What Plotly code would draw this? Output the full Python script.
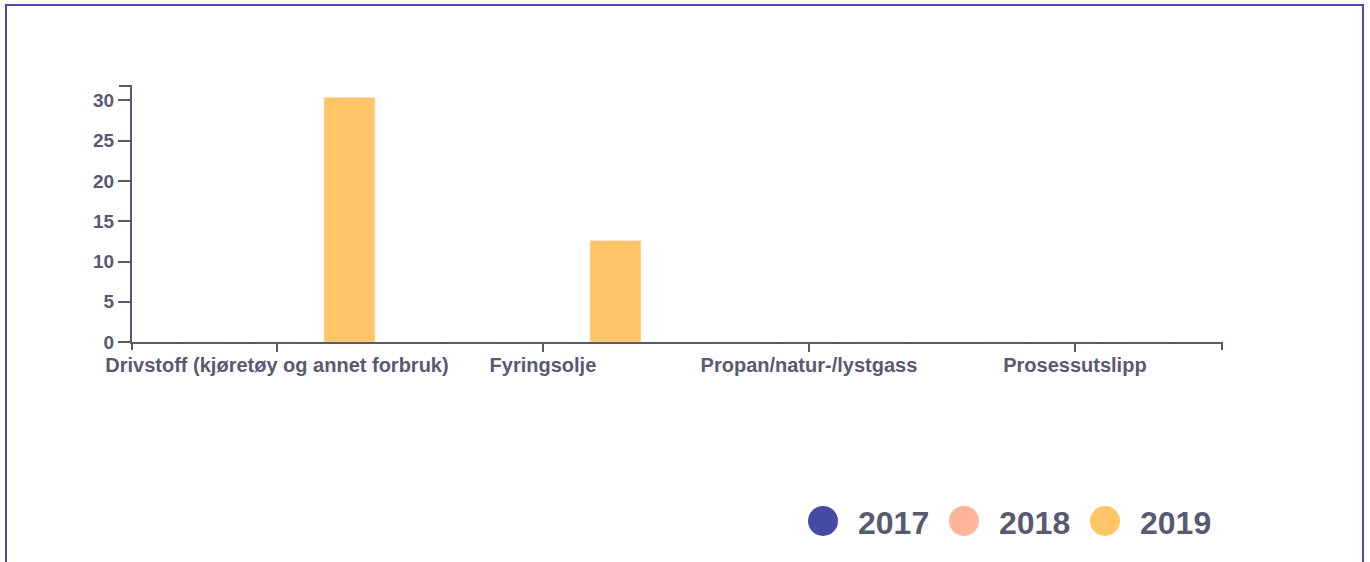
import plotly.graph_objects as go

categories = ["Drivstoff (kjøretøy og annet forbruk)", "Fyringsolje", "Propan/natur-/lystgass", "Prosessutslipp"]
years = ["2017", "2018", "2019"]
values_2017 = [0, 0, 0, 0]
values_2018 = [0, 0, 0, 0]
values_2019 = [30.4, 12.6, 0, 0]
colors = ["#464ca3", "#ffb59b", "#ffc566"]
y_ticks = [0, 5, 10, 15, 20, 25, 30]

series = [values_2017, values_2018, values_2019]
TEXT = "#595a72"
FONT = "Liberation Sans, Arial, sans-serif"

W, H = 1370, 562
L, R, T, B = 132, 1222, 86, 342

fig = go.Figure()
for name, vals, col in zip(years, series, colors):
    fig.add_trace(go.Bar(x=categories, y=vals, name=name, marker_color=col,
                         showlegend=False, hoverinfo="x+y+name"))


def px(x):
    return (x - L) / (R - L)


def py(y):
    return (B - y) / (B - T)


shapes = [
    # outer border
    dict(type="rect", xref="paper", yref="paper", x0=px(6), x1=px(1363), y0=py(600), y1=py(5),
         line=dict(color="#4a50a8", width=2), fillcolor="rgba(0,0,0,0)", layer="below"),
    # axis end caps
    dict(type="line", xref="paper", yref="paper", x0=px(119), x1=px(132), y0=1, y1=1,
         line=dict(color=TEXT, width=2)),
    dict(type="line", xref="paper", yref="paper", x0=0, x1=0, y0=0, y1=py(350),
         line=dict(color=TEXT, width=2)),
    dict(type="line", xref="paper", yref="paper", x0=1, x1=1, y0=0, y1=py(350),
         line=dict(color=TEXT, width=2)),
]

annotations = []
# custom legend (large circle markers)
leg_x0, leg_step, leg_y = 823, 141, 521
for i, (name, col) in enumerate(zip(years, colors)):
    cx = leg_x0 + i * leg_step
    shapes.append(dict(type="circle", xref="paper", yref="paper",
                       xsizemode="pixel", ysizemode="pixel",
                       xanchor=px(cx), yanchor=py(leg_y),
                       x0=-15, x1=15, y0=-15, y1=15,
                       fillcolor=col, line=dict(width=0)))
    annotations.append(dict(xref="paper", yref="paper", x=px(cx + 33), y=py(leg_y + 2),
                            xanchor="left", yanchor="middle", showarrow=False, text=name,
                            font=dict(family=FONT, size=32, color=TEXT, weight="bold")))

fig.update_layout(
    width=W, height=H,
    margin=dict(l=L, r=W - R, t=T, b=H - B),
    paper_bgcolor="white", plot_bgcolor="white",
    barmode="group", bargap=0.182, bargroupgap=0.296,
    showlegend=False,
    font=dict(family=FONT, color=TEXT, size=16),
    xaxis=dict(type="category", range=[-0.545, 3.553], showline=True, linecolor=TEXT, linewidth=2,
               ticks="outside", ticklen=8, tickwidth=2, tickcolor=TEXT, showgrid=False, zeroline=False,
               ticklabelstandoff=-4,
               tickfont=dict(family=FONT, size=20, color=TEXT, weight="bold"), fixedrange=True),
    yaxis=dict(range=[0, 31.8], tickvals=y_ticks, showline=True, linecolor=TEXT, linewidth=2,
               ticks="outside", ticklen=12, tickwidth=2, tickcolor=TEXT, showgrid=False, zeroline=False,
               tickfont=dict(family=FONT, size=19, color=TEXT, weight="bold"), fixedrange=True),
    shapes=shapes,
    annotations=annotations,
)

fig.write_html("out.html", config={"displayModeBar": False},
               post_script="document.body.style.margin='0';")
